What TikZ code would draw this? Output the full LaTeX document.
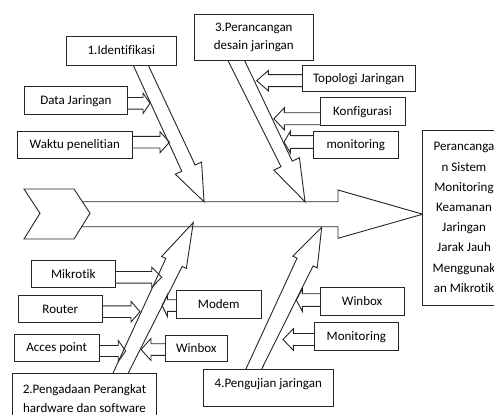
\documentclass[tikz,border=0pt]{standalone}
\usepackage{fontspec}
\setmainfont{Carlito}[Ligatures=CommonOff]
\usetikzlibrary{calc,backgrounds}
\tikzset{
  box/.style={draw=black!85, fill=white, line width=0.9pt, inner sep=0pt, font=\fontsize{13}{18.3}\selectfont},
  one/.style={text height=10pt, text depth=2pt},
  bonestyle/.style={draw=black!85, line width=0.9pt, line join=miter},
}
% block arrow: #1 tail, #2 tip, #3 shaft half-width at tail, #4 shaft half-width at head, #5 head half-width, #6 head length
\newcommand\blockarr[6]{%
  \coordinate (ba-a) at ($(#1)!-4pt!(#2)$);
  \coordinate (ba-c) at ($(#2)!#6pt!(#1)$);
  \draw[bonestyle] ($(ba-a)!#3pt!90:(#2)$) -- ($(ba-c)!#4pt!90:(#2)$) -- ($(ba-c)!#5pt!90:(#2)$) -- (#2)
    -- ($(ba-c)!#5pt!-90:(#2)$) -- ($(ba-c)!#4pt!-90:(#2)$) -- ($(ba-a)!#3pt!-90:(#2)$);}
% horizontal arrow from a box side: #1 box anchor, #2 tip name, #3 tip position, #4 shaft half, #5 head half, #6 head length
\newcommand\sidearrow[6]{%
  \coordinate (#2) at (#3);
  \coordinate (#2-s) at (#1 |- #2);
  \blockarr{#2-s}{#2}{#4}{#4}{#5}{#6}}
\begin{document}
\begin{tikzpicture}[x=1pt,y=-1pt]
\useasboundingbox (0,0) rectangle (494,414);

% boxes
\node[box,one,minimum width=110.7,minimum height=28.3] (id) at (121.35,50.85) {1.Identifikasi};
\node[box,one,minimum width=103.7,minimum height=27.6] (dj) at (75.85,100.5) {Data Jaringan\hspace{14pt}};
\node[box,one,minimum width=115,minimum height=27.3] (wp) at (74.8,144.65) {Waktu penelitian\hspace{6pt}};
\node[box,align=center,minimum width=119,minimum height=46.7] (pd) at (253.8,37.35) {3.Perancangan\\desain jaringan};
\node[box,one,minimum width=112.7,minimum height=26] (topo) at (358.65,78.7) {Topologi Jaringan};
\node[box,one,minimum width=85,minimum height=27.3] (konf) at (362.5,111.35) {Konfigurasi\hspace{6pt}};
\node[box,one,minimum width=85,minimum height=27.3] (moni) at (355.8,144.65) {monitoring\hspace{8pt}};
\node[box,one,minimum width=84.7,minimum height=26.6] (mik) at (73.35,274) {Mikrotik};
\node[box,one,minimum width=84,minimum height=26.6] (rou) at (60.3,309) {Router};
\node[box,one,minimum width=84.7,minimum height=26.7] (ap) at (56.65,347.65) {Acces point\hspace{9pt}};
\node[box,align=center,minimum width=144.4,minimum height=51,font=\fontsize{13}{19}\selectfont] (hw) at (84.5,398.5) {2.Pengadaan Perangkat\\hardware dan software};
\node[box,one,minimum width=85.5,minimum height=27.8] (mod) at (218.75,304.4) {Modem};
\node[box,one,minimum width=62.7,minimum height=26.7] (wbl) at (196.35,348.35) {Winbox\hspace{5pt}};
\node[box,one,minimum width=130,minimum height=36.7] (pj) at (268.3,387.65) {\raisebox{4pt}{4.Pengujian jaringan}\hspace{3pt}};
\node[box,one,minimum width=84.3,minimum height=28.4] (wbr) at (362.15,301.5) {Winbox\hspace{25pt}};
\node[box,one,minimum width=84.7,minimum height=27.3] (mon) at (356.35,336.35) {Monitoring\hspace{9pt}};
\node[box,align=center,minimum width=82.6,minimum height=175,font=\fontsize{13}{20.2}\selectfont] (eff) at (464,217.5)
  {Perancanga\\n Sistem\\Monitoring\\Keamanan\\Jaringan\\Jarak Jauh\\Menggunak\\an Mikrotik};

\begin{pgfonlayer}{background}
% spine (fish body)
\coordinate (tip) at (422.7,214.2);
\draw[bonestyle] (24,189) -- (74,189) -- (90,213.3) -- (74,239) -- (24,239) -- (40,213.3) -- cycle;
\draw[bonestyle] (82.4,201.7) -- (338,201.7) -- (338,190) -- (tip) -- (338,238.3) -- (338,226.7) -- (81.7,226.7);

% main bones
\coordinate (a1) at ($(id.south)+(19.5,0)$);   \coordinate (t1) at (204,201.7);
\coordinate (a3) at ($(pd.south)+(-17.15,0)$); \coordinate (t3) at (305,201.7);
\coordinate (a2) at ($(hw.north)+(36.3,0)$);   \coordinate (t2) at (193.3,222.5);
\coordinate (a4) at ($(pj.north)+(-14.45,0)$); \coordinate (t4) at (321.7,227.3);
\blockarr{a1}{t1}{6.8}{7.35}{14.5}{37}
\blockarr{a3}{t3}{7.5}{6.3}{14.2}{42}
\blockarr{a2}{t2}{6.77}{9.1}{13.7}{44.4}
\blockarr{a4}{t4}{7.08}{8.9}{13.5}{38.5}

% sub-cause arrows
\sidearrow{dj.east}{t-dj}{150,103.3}{5.8}{10.2}{7}
\sidearrow{wp.east}{t-wp}{169.5,142.2}{5.8}{10.5}{9.5}
\sidearrow{topo.west}{t-topo}{256.7,80.7}{6}{10.2}{11.7}
\sidearrow{konf.west}{t-konf}{273.8,118.8}{6}{11}{10.5}
\sidearrow{moni.west}{t-moni}{284,142}{6.3}{10.8}{6.3}
\sidearrow{mik.east}{t-mik}{161.7,277.3}{5.8}{10.2}{10}
\sidearrow{rou.east}{t-rou}{140,311.7}{5.8}{10.3}{9}
\sidearrow{ap.east}{t-ap}{125.7,351}{5.5}{10.5}{7.5}
\sidearrow{mod.west}{t-mod}{162,305.5}{5.8}{11}{5.5}
\sidearrow{wbl.west}{t-wbl}{141,349.5}{5.8}{11}{10}
\sidearrow{wbr.west}{t-wbr}{296.3,300}{6.3}{11.3}{6}
\sidearrow{mon.west}{t-mon}{283,339.5}{6}{10.8}{10.3}
\end{pgfonlayer}
\end{tikzpicture}
\end{document}
